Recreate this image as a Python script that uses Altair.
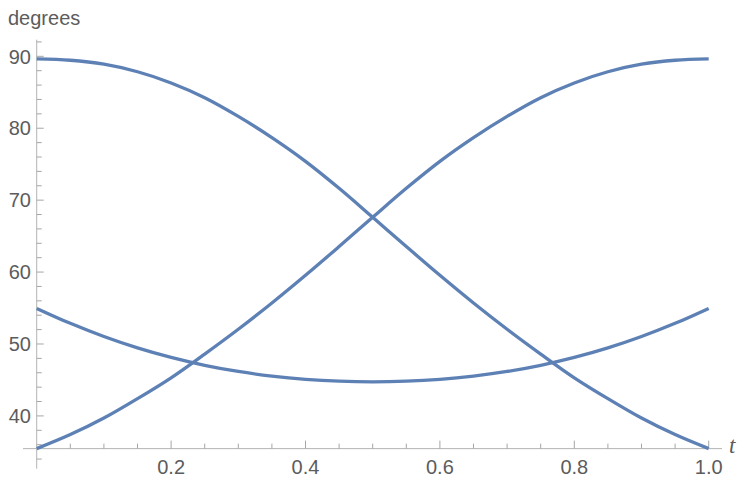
import altair as alt
import pandas as pd

# ---- data ----
t_values = [0.0, 0.05, 0.1, 0.15, 0.2, 0.25, 0.3, 0.35, 0.4, 0.45, 0.5,
            0.55, 0.6, 0.65, 0.7, 0.75, 0.8, 0.85, 0.9, 0.95, 1.0]
angle_a = [89.63, 89.45, 88.9, 87.85, 86.3, 84.25, 81.65, 78.7, 75.4, 71.65, 67.62,
           63.55, 59.55, 55.7, 52.05, 48.6, 45.3, 42.4, 39.7, 37.4, 35.45]
angle_b = [35.45, 37.4, 39.7, 42.4, 45.3, 48.6, 52.05, 55.7, 59.55, 63.55, 67.62,
           71.65, 75.4, 78.7, 81.65, 84.25, 86.3, 87.85, 88.9, 89.45, 89.63]
angle_c = [54.95, 52.87, 51.04, 49.46, 48.13, 47.04, 46.18, 45.54, 45.09, 44.83, 44.74,
           44.83, 45.09, 45.54, 46.18, 47.04, 48.13, 49.46, 51.04, 52.87, 54.95]

x_label_values = [0.2, 0.4, 0.6, 0.8, 1.0]
x_label_texts = ["0.2", "0.4", "0.6", "0.8", "1.0"]
x_minor_ticks = [0.05, 0.1, 0.15, 0.25, 0.3, 0.35, 0.45, 0.5, 0.55,
                 0.65, 0.7, 0.75, 0.85, 0.9, 0.95]
y_label_values = [40, 50, 60, 70, 80, 90]
y_label_texts = ["40", "50", "60", "70", "80", "90"]
y_minor_ticks = [34, 36, 38, 42, 44, 46, 48, 52, 54, 56, 58, 62, 64, 66, 68,
                 72, 74, 76, 78, 82, 84, 86, 88, 92]
x_title = "t"
y_title = "degrees"

# ---- layout / style ----
X_DOMAIN = [-0.0204, 1.0198]
Y_DOMAIN = [32.66, 92.31]
X_AXIS_AT = 35.45   # y value where the horizontal axis crosses
Y_AXIS_AT = 0.0     # t value where the vertical axis crosses
W, H = 699, 429
LINE_COLOR = "#5E81B5"
AXIS_COLOR = "#B3B3B3"
TICK_COLOR = "#A6A6A6"
TEXT_COLOR = "#5C5C5C"
FONT = "Liberation Sans"

xs = alt.Scale(domain=X_DOMAIN, nice=False, zero=False)
ys = alt.Scale(domain=Y_DOMAIN, nice=False, zero=False)

rows = []
for name, vals in (("a", angle_a), ("b", angle_b), ("c", angle_c)):
    for t, v in zip(t_values, vals):
        rows.append({"t": t, "angle": v, "series": name})
df = pd.DataFrame(rows)

lines = alt.Chart(df).mark_line(
    color=LINE_COLOR, strokeWidth=3.3, interpolate="monotone"
).encode(
    x=alt.X("t:Q", scale=xs, axis=None),
    y=alt.Y("angle:Q", scale=ys, axis=None),
    detail="series:N",
)

x_domain_line = alt.Chart().mark_rule(color=AXIS_COLOR, strokeWidth=1).encode(
    x=alt.X(datum=X_DOMAIN[0], scale=xs, axis=None),
    x2=alt.datum(X_DOMAIN[1]),
    y=alt.Y(datum=X_AXIS_AT, scale=ys, axis=None),
)
y_domain_line = alt.Chart().mark_rule(color=AXIS_COLOR, strokeWidth=1).encode(
    x=alt.X(datum=Y_AXIS_AT, scale=xs, axis=None),
    y=alt.Y(datum=Y_DOMAIN[0], scale=ys, axis=None),
    y2=alt.datum(Y_DOMAIN[1]),
)

def xticks(values, size):
    d = pd.DataFrame({"t": values})
    return alt.Chart(d).mark_rule(color=TICK_COLOR, strokeWidth=1, y2Offset=-size).encode(
        x=alt.X("t:Q", scale=xs, axis=None),
        y=alt.Y(datum=X_AXIS_AT, scale=ys, axis=None),
        y2=alt.datum(X_AXIS_AT),
    )

def yticks(values, size):
    d = pd.DataFrame({"v": values})
    return alt.Chart(d).mark_rule(color=TICK_COLOR, strokeWidth=1, x2Offset=size).encode(
        y=alt.Y("v:Q", scale=ys, axis=None),
        x=alt.X(datum=Y_AXIS_AT, scale=xs, axis=None),
        x2=alt.datum(Y_AXIS_AT),
    )

x_labels = alt.Chart(pd.DataFrame({"t": x_label_values, "s": x_label_texts})).mark_text(
    font=FONT, fontSize=20, color=TEXT_COLOR, align="center", baseline="alphabetic", dy=25
).encode(
    x=alt.X("t:Q", scale=xs, axis=None),
    y=alt.Y(datum=X_AXIS_AT, scale=ys, axis=None),
    text="s:N",
)
y_labels = alt.Chart(pd.DataFrame({"v": y_label_values, "s": y_label_texts})).mark_text(
    font=FONT, fontSize=20, color=TEXT_COLOR, align="right", baseline="alphabetic",
    dx=-5.8, dy=7.2
).encode(
    y=alt.Y("v:Q", scale=ys, axis=None),
    x=alt.X(datum=Y_AXIS_AT, scale=xs, axis=None),
    text="s:N",
)
x_title_mark = alt.Chart(pd.DataFrame({"s": [x_title]})).mark_text(
    font="Liberation Serif", fontStyle="italic", fontSize=23, color=TEXT_COLOR,
    align="left", baseline="alphabetic", dx=7, dy=4.5
).encode(
    x=alt.X(datum=X_DOMAIN[1], scale=xs, axis=None),
    y=alt.Y(datum=X_AXIS_AT, scale=ys, axis=None),
    text="s:N",
)
y_title_mark = alt.Chart(pd.DataFrame({"s": [y_title]})).mark_text(
    font=FONT, fontSize=20, color=TEXT_COLOR, align="left", baseline="alphabetic",
    dx=-15, dy=-14.7
).encode(
    x=alt.X(datum=X_DOMAIN[0], scale=xs, axis=None),
    y=alt.Y(datum=Y_DOMAIN[1], scale=ys, axis=None),
    text="s:N",
)

chart = alt.layer(
    x_domain_line, y_domain_line,
    xticks(x_minor_ticks, 5), xticks(x_label_values, 8),
    yticks(y_minor_ticks, 5), yticks(y_label_values, 7),
    x_labels, y_labels, x_title_mark, y_title_mark,
    lines,
).properties(
    width=W, height=H,
    autosize=alt.AutoSizeParams(type="none"),
    padding={"left": 15, "top": 31.7, "right": 17, "bottom": 9.3},
).configure_view(stroke=None)

chart.save("out.html", embed_options={"renderer": "svg", "actions": False})
